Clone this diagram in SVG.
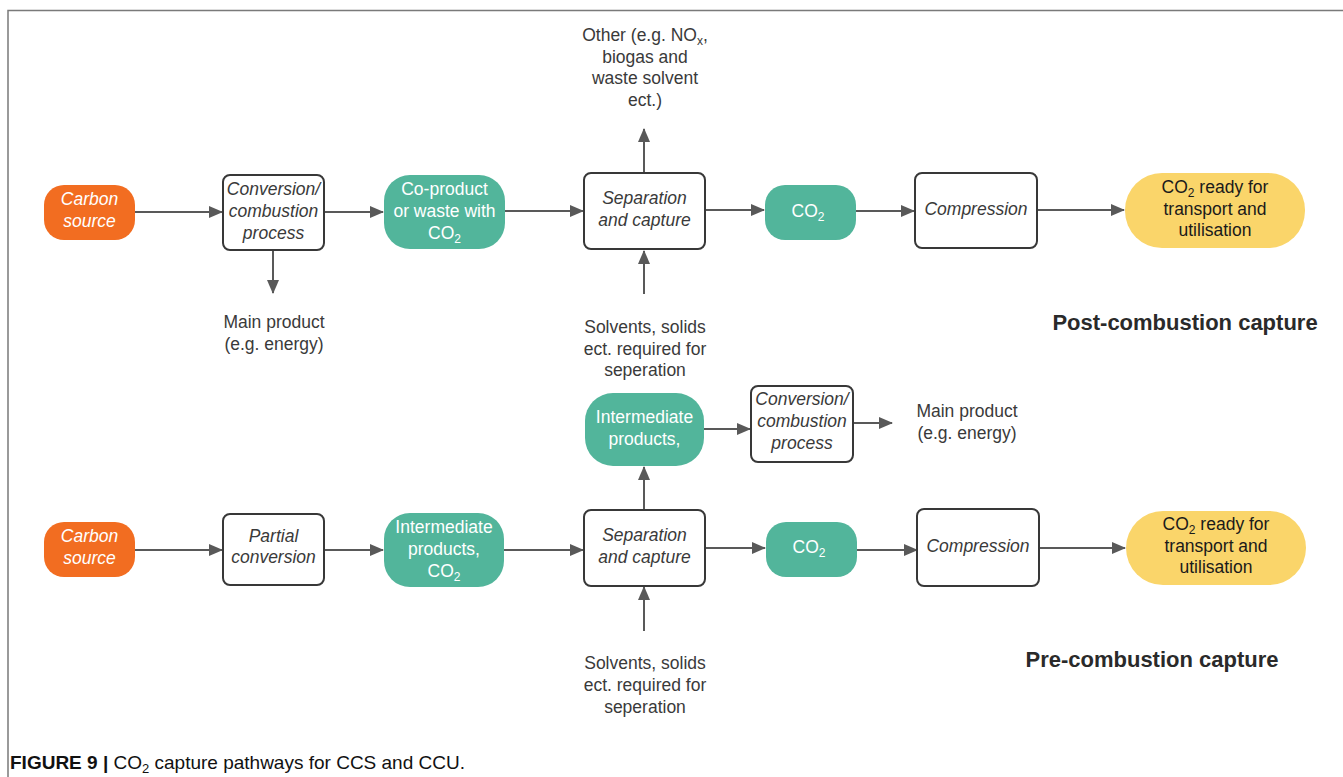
<svg xmlns="http://www.w3.org/2000/svg" width="1343" height="777" viewBox="0 0 1343 777">
<style>
text{font-family:"Liberation Sans",Arial,sans-serif;font-size:17.5px;text-anchor:middle;fill:#3a3a3a}
.it{font-style:italic}
.w{fill:#ffffff}
.k{fill:#1a1a1a}
.box{fill:#ffffff;stroke:#383838;stroke-width:2}
.org{fill:#f26d21}
.teal{fill:#52b59b}
.yel{fill:#fad56a}
.hd{font-weight:bold;font-size:22px;fill:#2a2a2a}
.c line{stroke:#595959;stroke-width:2;marker-end:url(#ah)}
.sub{font-size:12px}
</style>
<defs>
<marker id="ah" markerWidth="14" markerHeight="12" refX="13" refY="6" orient="auto" markerUnits="userSpaceOnUse"><path d="M0,0 L14,6 L0,12 z" fill="#595959"/></marker>
</defs>
<rect width="1343" height="777" fill="#ffffff"/>
<path d="M8,777 V10.5 H1343" fill="none" stroke="#7a7a7a" stroke-width="1.5"/>

<g class="c" id="connectors">
<line x1="135" y1="212" x2="222" y2="212"/>
<line x1="324" y1="212" x2="383" y2="212"/>
<line x1="505" y1="211" x2="583" y2="211"/>
<line x1="705" y1="210" x2="764" y2="210"/>
<line x1="856" y1="211" x2="914" y2="211"/>
<line x1="1037" y1="210" x2="1124" y2="210"/>
<line x1="273" y1="250" x2="273" y2="293"/>
<line x1="644" y1="173" x2="644" y2="129"/>
<line x1="644" y1="294" x2="644" y2="251"/>
<line x1="644" y1="510" x2="644" y2="467"/>
<line x1="704" y1="429" x2="750" y2="429"/>
<line x1="853" y1="423" x2="892" y2="423"/>
<line x1="135" y1="550" x2="222" y2="550"/>
<line x1="324" y1="550" x2="383" y2="550"/>
<line x1="504" y1="550" x2="583" y2="550"/>
<line x1="705" y1="548" x2="765" y2="548"/>
<line x1="857" y1="550" x2="917" y2="550"/>
<line x1="1039" y1="548" x2="1125" y2="548"/>
<line x1="644" y1="631" x2="644" y2="587"/>
</g>

<g id="carbon-top"><rect class="org" x="44" y="185" width="91" height="55" rx="20"/>
<text class="it w" x="89.5" y="205">Carbon</text><text class="it w" x="89.5" y="227">source</text></g>

<g id="conv-top"><rect class="box" x="223" y="175" width="101" height="75" rx="7"/>
<text class="it" x="273.5" y="195">Conversion/</text><text class="it" x="273.5" y="217">combustion</text><text class="it" x="273.5" y="239">process</text></g>

<g id="coproduct"><rect class="teal" x="384" y="175" width="121" height="74" rx="26"/>
<text class="w" x="444.5" y="195">Co-product</text><text class="w" x="444.5" y="217">or waste with</text><text class="w" x="444.5" y="239">CO<tspan class="sub" dy="4">2</tspan></text></g>

<g id="sep-top"><rect class="box" x="584" y="173" width="121" height="76" rx="7"/>
<text class="it" x="644.5" y="204">Separation</text><text class="it" x="644.5" y="226">and capture</text></g>

<g id="other"><text x="645" y="41">Other (e.g. NO<tspan class="sub" dy="4">x</tspan><tspan dy="-4">,</tspan></text>
<text x="645" y="63">biogas and</text><text x="645" y="84">waste solvent</text><text x="645" y="106">ect.)</text></g>

<g id="co2-top"><rect class="teal" x="765" y="185" width="91" height="55" rx="20"/>
<text class="w" x="808" y="217">CO<tspan class="sub" dy="4">2</tspan></text></g>

<g id="comp-top"><rect class="box" x="915" y="173" width="122" height="75" rx="7"/>
<text class="it" x="976" y="215">Compression</text></g>

<g id="ready-top"><rect class="yel" x="1125" y="173" width="180" height="75" rx="37"/>
<text class="k" x="1215" y="193">CO<tspan class="sub" dy="4">2</tspan><tspan dy="-4"> ready for</tspan></text><text class="k" x="1215" y="215">transport and</text><text class="k" x="1215" y="236">utilisation</text></g>

<g id="post-label"><text class="hd" x="1185" y="330">Post-combustion capture</text></g>

<g id="main-top"><text x="274" y="328">Main product</text><text x="274" y="350">(e.g. energy)</text></g>

<g id="solv-top"><text x="645" y="333">Solvents, solids</text><text x="645" y="355">ect. required for</text><text x="645" y="376">seperation</text></g>

<g id="inter-mid"><rect class="teal" x="585" y="393" width="119" height="73" rx="28"/>
<text class="w" x="644.5" y="423">Intermediate</text><text class="w" x="644.5" y="445">products,</text></g>

<g id="conv-mid"><rect class="box" x="751" y="386" width="102" height="76" rx="7"/>
<text class="it" x="802" y="405">Conversion/</text><text class="it" x="802" y="427">combustion</text><text class="it" x="802" y="449">process</text></g>

<g id="main-mid"><text x="967" y="417">Main product</text><text x="967" y="439">(e.g. energy)</text></g>

<g id="carbon-bot"><rect class="org" x="44" y="522" width="91" height="55" rx="20"/>
<text class="it w" x="89.5" y="542">Carbon</text><text class="it w" x="89.5" y="564">source</text></g>

<g id="partial"><rect class="box" x="223" y="514" width="101" height="71" rx="7"/>
<text class="it" x="273.5" y="542">Partial</text><text class="it" x="273.5" y="563">conversion</text></g>

<g id="inter-bot"><rect class="teal" x="384" y="513" width="120" height="74" rx="26"/>
<text class="w" x="444" y="533">Intermediate</text><text class="w" x="444" y="555">products,</text><text class="w" x="444" y="577">CO<tspan class="sub" dy="4">2</tspan></text></g>

<g id="sep-bot"><rect class="box" x="584" y="510" width="121" height="76" rx="7"/>
<text class="it" x="644.5" y="541">Separation</text><text class="it" x="644.5" y="563">and capture</text></g>

<g id="co2-bot"><rect class="teal" x="766" y="522" width="91" height="55" rx="20"/>
<text class="w" x="809" y="553">CO<tspan class="sub" dy="4">2</tspan></text></g>

<g id="comp-bot"><rect class="box" x="917" y="509" width="122" height="77" rx="7"/>
<text class="it" x="978" y="552">Compression</text></g>

<g id="ready-bot"><rect class="yel" x="1126" y="511" width="180" height="74" rx="37"/>
<text class="k" x="1216" y="530">CO<tspan class="sub" dy="4">2</tspan><tspan dy="-4"> ready for</tspan></text><text class="k" x="1216" y="552">transport and</text><text class="k" x="1216" y="573">utilisation</text></g>

<g id="pre-label"><text class="hd" x="1152" y="667">Pre-combustion capture</text></g>

<g id="solv-bot"><text x="645" y="669">Solvents, solids</text><text x="645" y="691">ect. required for</text><text x="645" y="713">seperation</text></g>

<g id="caption"><text x="10" y="769" style="text-anchor:start;font-size:19px;fill:#111"><tspan font-weight="bold">FIGURE 9 | </tspan>CO<tspan style="font-size:13px" dy="4">2</tspan><tspan dy="-4"> capture pathways for CCS and CCU.</tspan></text></g>
</svg>
